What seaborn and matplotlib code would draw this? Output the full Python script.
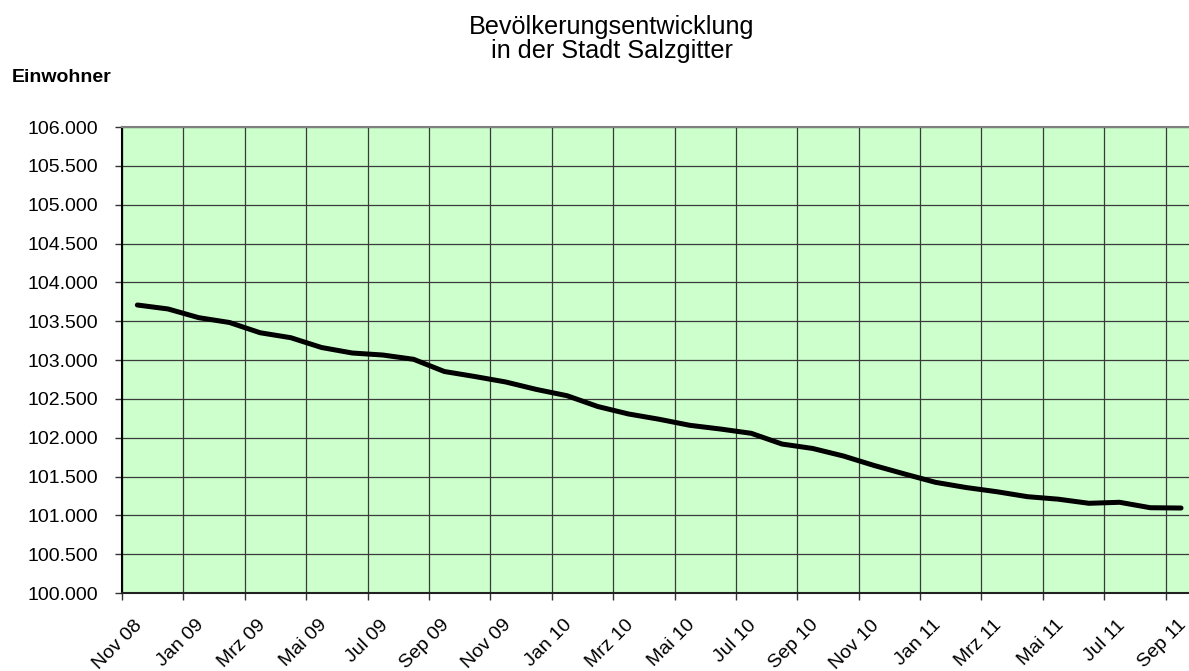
import numpy as np
import pandas as pd
import matplotlib
matplotlib.use("Agg")
import matplotlib.pyplot as plt
import matplotlib.transforms as mtransforms
from matplotlib.ticker import FuncFormatter
import seaborn as sns

# monthly population of Salzgitter, Nov 2008 - Sep 2011
monate = ['Nov 08', 'Dez 08', 'Jan 09', 'Feb 09', 'Mrz 09', 'Apr 09', 'Mai 09', 'Jun 09',
          'Jul 09', 'Aug 09', 'Sep 09', 'Okt 09', 'Nov 09', 'Dez 09', 'Jan 10', 'Feb 10',
          'Mrz 10', 'Apr 10', 'Mai 10', 'Jun 10', 'Jul 10', 'Aug 10', 'Sep 10', 'Okt 10',
          'Nov 10', 'Dez 10', 'Jan 11', 'Feb 11', 'Mrz 11', 'Apr 11', 'Mai 11', 'Jun 11',
          'Jul 11', 'Aug 11', 'Sep 11']
einwohner = [103708, 103657, 103545, 103483, 103351, 103287, 103161, 103090,
             103064, 103009, 102852, 102787, 102717, 102621, 102540, 102401,
             102305, 102237, 102159, 102111, 102056, 101918, 101861, 101764,
             101642, 101532, 101425, 101358, 101304, 101240, 101208, 101155,
             101168, 101098, 101094]
y_ticks = list(range(100000, 106001, 500))
x_labels = monate[::2]

sns.set_theme(style="white")
plt.rcParams['font.family'] = ['Liberation Sans', 'DejaVu Sans']
plt.rcParams['text.color'] = 'black'
plt.rcParams['xtick.color'] = 'black'
plt.rcParams['ytick.color'] = 'black'

df = pd.DataFrame({'pos': np.arange(len(monate)) + 0.5, 'wert': einwohner})

fig = plt.figure(figsize=(11.89, 6.71), dpi=100)
ax = fig.add_axes([122 / 1189, 1 - 593 / 671, 1 - 122 / 1189, (593 - 127) / 671])
ax.set_facecolor('#CCFFCC')

sns.lineplot(data=df, x='pos', y='wert', ax=ax, color='black', linewidth=3.6,
             solid_joinstyle='round', solid_capstyle='round', zorder=5)

ax.set_xlim(0, 34.76)
ax.set_ylim(100000, 106000)
ax.set_yticks(y_ticks)
ax.yaxis.set_major_formatter(FuncFormatter(lambda v, p: f"{int(v):,}".replace(',', '.')))
ax.tick_params(axis='y', labelsize=14, length=5, width=1, color='#333333', pad=12, left=True)
ax.tick_params(axis='x', length=5, width=1, color='#333333', pad=12, bottom=True)
ax.set_xticks(np.arange(0, len(monate), 2))
ax.set_xticklabels(x_labels, rotation=45, ha='right', va='top', rotation_mode='anchor', fontsize=14)
# shift the rotated labels a bit to the right, like the spreadsheet original
offset = mtransforms.ScaledTranslation(12 / 100, 0, fig.dpi_scale_trans)
for lbl in ax.get_xticklabels():
    lbl.set_transform(lbl.get_transform() + offset)
ax.grid(True, color='#3a3a3a', linewidth=0.9)
ax.set_axisbelow(True)
ax.set_xlabel('')
ax.set_ylabel('')

ax.spines['left'].set_color('black')
ax.spines['left'].set_linewidth(1.5)
ax.spines['bottom'].set_color('#222222')
ax.spines['bottom'].set_linewidth(1.5)
ax.spines['top'].set_color('#808080')
ax.spines['top'].set_linewidth(1.5)
ax.spines['right'].set_visible(False)

fig.text(612 / 1189, 0.978, 'Bevölkerungsentwicklung\nin der Stadt Salzgitter',
         ha='center', va='top', fontsize=18.2, linespacing=1.02)
fig.text(12 / 1189, 1 - 82 / 671, 'Einwohner', ha='left', va='baseline',
         fontsize=14, fontweight='bold')

fig.savefig('out.png', dpi=100)
